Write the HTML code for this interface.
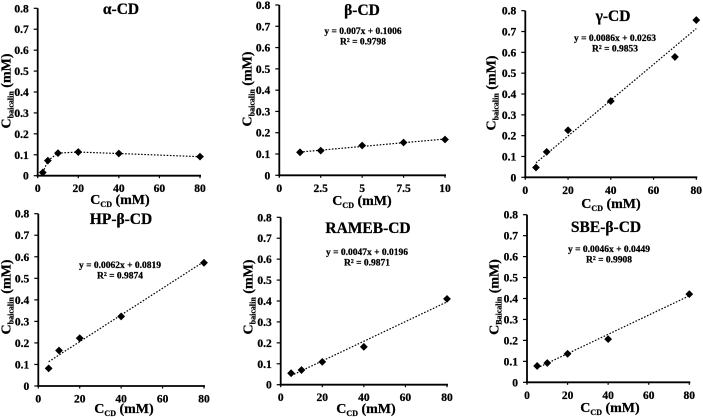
<!DOCTYPE html>
<html>
<head>
<meta charset="utf-8">
<style>
html,body{margin:0;padding:0;background:#fff;width:703px;height:417px;overflow:hidden}
svg{display:block;filter:blur(0.35px)}
text{font-family:"Liberation Serif",serif;font-weight:bold;fill:#000;stroke:#000;stroke-width:0.25px}
</style>
</head>
<body>
<svg id="chart" width="703" height="417" viewBox="0 0 703 417" xmlns="http://www.w3.org/2000/svg"></svg>
<script>
const alphaX = [2.5, 5, 10, 20, 40, 80];
const alphaY = [0.015, 0.072, 0.108, 0.113, 0.106, 0.091];
const betaX = [1.25, 2.5, 5, 7.5, 10];
const betaY = [0.108, 0.116, 0.14, 0.154, 0.168];
const gammaX = [5, 10, 20, 40, 70, 80];
const gammaY = [0.047, 0.122, 0.226, 0.366, 0.578, 0.755];
const hpX = [5, 10, 20, 40, 80];
const hpY = [0.082, 0.165, 0.222, 0.323, 0.572];
const ramebX = [5, 10, 20, 40, 80];
const ramebY = [0.055, 0.07, 0.109, 0.181, 0.41];
const sbeX = [5, 10, 20, 40, 80];
const sbeY = [0.078, 0.092, 0.136, 0.206, 0.421];

const yTicks = [0, 0.1, 0.2, 0.3, 0.4, 0.5, 0.6, 0.7, 0.8];
const xTicks80 = [0, 20, 40, 60, 80];
const xTicks10 = [0, 2.5, 5, 7.5, 10];

const panelTitles = ['α-CD', 'β-CD', 'γ-CD', 'HP-β-CD', 'RAMEB-CD', 'SBE-β-CD'];
const trendSlopes = [null, 0.007, 0.0086, 0.0062, 0.0047, 0.0046];
const trendIntercepts = [null, 0.1006, 0.0263, 0.0819, 0.0196, 0.0449];
const rSquared = [null, '0.9798', '0.9853', '0.9874', '0.9871', '0.9908'];
const yTitleSubs = ['baicalin', 'baicalin', 'baicalin', 'baicalin', 'baicalin', 'Baicalin'];

const seriesX = [alphaX, betaX, gammaX, hpX, ramebX, sbeX];
const seriesY = [alphaY, betaY, gammaY, hpY, ramebY, sbeY];
const seriesTicks = [xTicks80, xTicks10, xTicks80, xTicks80, xTicks80, xTicks80];

/* layout only: plot frames and label anchors */
const frames = [
  {l:37.7, r:200,   b:175.7, t:8.3,   tx:121, ty:14,  ex:0,   ey:0,   xx:120, xy:204, yx:10.5, yy:91},
  {l:279.3,r:445,   b:175.3, t:5,     tx:362, ty:15,  ex:363, ey:34,  xx:362, xy:205, yx:251.5, yy:89},
  {l:525.3,r:696.3, b:177.3, t:10.7,  tx:613, ty:21,  ex:615, ey:41,  xx:611, xy:208, yx:495.5, yy:93},
  {l:38.3, r:204,   b:386,   t:213.7, tx:121, ty:224, ex:120, ey:268, xx:124, xy:413, yx:10.5, yy:297},
  {l:280.7,r:447,   b:384.7, t:217.3, tx:368, ty:233, ex:367, ey:255, xx:366, xy:413, yx:252.5, yy:297},
  {l:527,  r:689.3, b:382.3, t:214.7, tx:606, ty:232, ex:609, ey:252, xx:610, xy:412, yx:498.5, yy:297}
];

const SVGNS = 'http://www.w3.org/2000/svg';
const root = document.getElementById('chart');

function make(tag, parent, props) {
  const el = document.createElementNS(SVGNS, tag);
  for (const k in props) el.setAttribute(k, props[k]);
  parent.appendChild(el);
  return el;
}

function addSub(textEl, main, sub, rest, subSize) {
  const a = document.createElementNS(SVGNS, 'tspan');
  a.textContent = main;
  textEl.appendChild(a);
  const b = document.createElementNS(SVGNS, 'tspan');
  b.setAttribute('font-size', subSize);
  b.setAttribute('dy', '3');
  b.textContent = sub;
  textEl.appendChild(b);
  const c = document.createElementNS(SVGNS, 'tspan');
  c.setAttribute('dy', '-3');
  c.textContent = rest;
  textEl.appendChild(c);
}

panelTitles.forEach(function (title, i) {
  const f = frames[i];
  const xs = seriesX[i];
  const ys = seriesY[i];
  const ticks = seriesTicks[i];
  const xMax = ticks[ticks.length - 1];
  const yMax = yTicks[yTicks.length - 1];
  const sx = function (v) { return f.l + (f.r - f.l) * v / xMax; };
  const sy = function (v) { return f.b - (f.b - f.t) * v / yMax; };

  const g = make('g', root, {});
  
  

  const yAxis = make('line', g, {x1:f.l, x2:f.l, y1:f.t, y2:f.b + 1, stroke:'#000', 'stroke-width':1.8});
  
  

  const xAxis = make('line', g, {x1:f.l - 1, x2:f.r + 1, y1:f.b, y2:f.b, stroke:'#000', 'stroke-width':1.8});
  
  

  yTicks.forEach(function (v) {
    const tick = make('line', g, {x1:f.l - 4, x2:f.l, y1:sy(v), y2:sy(v), stroke:'#000', 'stroke-width':1.2});
    
    
    const lab = make('text', g, {x:f.l - 9, y:sy(v) + 4, 'text-anchor':'end', 'font-size':11.5});
    lab.textContent = String(v);
    
    
  });

  ticks.forEach(function (v) {
    const tick = make('line', g, {x1:sx(v), x2:sx(v), y1:f.b, y2:f.b + 2.5, stroke:'#000', 'stroke-width':1.2});
    
    
    const lab = make('text', g, {x:sx(v), y:f.b + 16.5, 'text-anchor':'middle', 'font-size':11.5});
    lab.textContent = String(v);
    
    
  });

  if (trendSlopes[i] === null) {
    const pts = xs.map(function (x, k) { return sx(x) + ',' + sy(ys[k]); }).join(' ');
    const conn = make('polyline', g, {points:pts, fill:'none', stroke:'#000', 'stroke-width':1.2, 'stroke-dasharray':'1.6 1.6'});
    
    
  } else {
    const x0 = xs[0];
    const x1 = xs[xs.length - 1];
    const trend = make('line', g, {
      x1:sx(x0), y1:sy(trendSlopes[i] * x0 + trendIntercepts[i]),
      x2:sx(x1), y2:sy(trendSlopes[i] * x1 + trendIntercepts[i]),
      stroke:'#000', 'stroke-width':1.2, 'stroke-dasharray':'1.6 1.6'
    });
    
    

    const eq = make('text', g, {x:f.ex, y:f.ey, 'text-anchor':'middle', 'font-size':9.5});
    eq.textContent = 'y = ' + trendSlopes[i] + 'x + ' + trendIntercepts[i];
    
    

    const r2 = make('text', g, {x:f.ex, y:f.ey + 10.7, 'text-anchor':'middle', 'font-size':9.5});
    r2.textContent = 'R² = ' + rSquared[i];
    
    
  }

  xs.forEach(function (x, k) {
    const cx = sx(x);
    const cy = sy(ys[k]);
    const pts = [cx - 3.9, cy, cx, cy - 3.9, cx + 3.9, cy, cx, cy + 3.9].join(' ');
    const m = make('polygon', g, {points:pts, fill:'#000'});
    
    
  });

  const t = make('text', g, {x:f.tx, y:f.ty, 'text-anchor':'middle', 'font-size':15.5});
  t.textContent = title;
  
  

  const xTitle = make('text', g, {x:f.xx, y:f.xy, 'text-anchor':'middle', 'font-size':14});
  addSub(xTitle, 'C', 'CD', ' (mM)', 8);
  
  

  const yTitle = make('text', g, {x:0, y:0, 'text-anchor':'middle', 'font-size':14, transform:'translate(' + f.yx + ',' + f.yy + ') rotate(-90)'});
  addSub(yTitle, 'C', yTitleSubs[i], ' (mM)', 8);
  
  
});
</script>
</body>
</html>
